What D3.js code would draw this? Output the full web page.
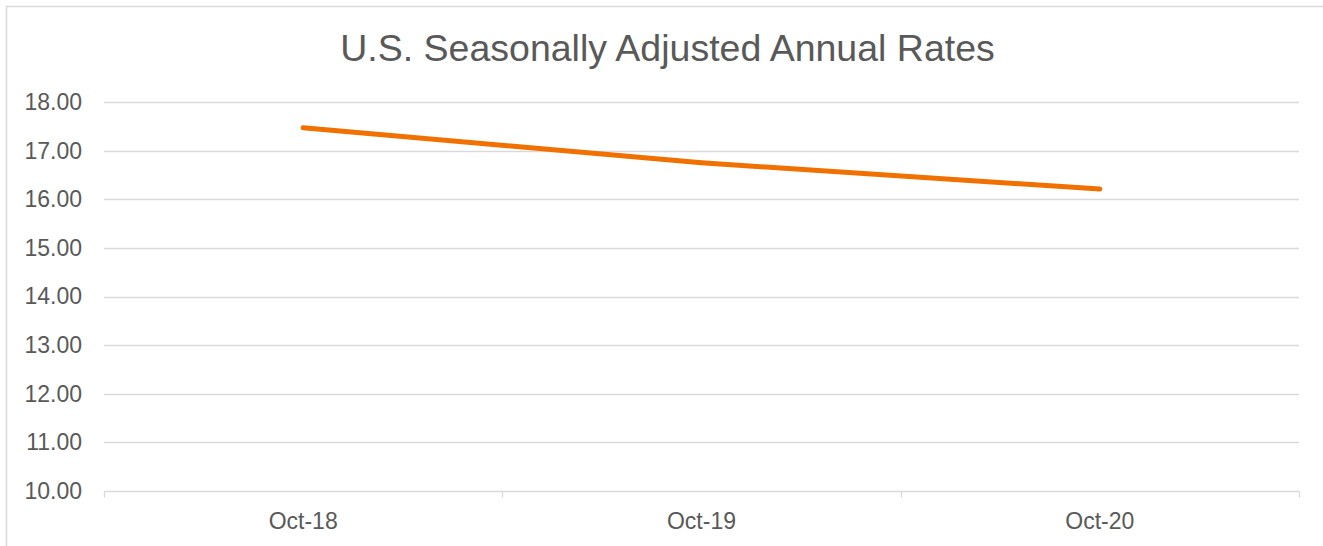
<!DOCTYPE html>
<html>
<head>
<meta charset="utf-8">
<script src="https://cdn.jsdelivr.net/npm/d3@7"></script>
<style>
  html, body { margin: 0; padding: 0; background: #fff; }
  svg { display: block; }
</style>
</head>
<body>
<svg id="chart" width="1323" height="546"></svg>
<script>
const title = "U.S. Seasonally Adjusted Annual Rates";
const categories = ["Oct-18", "Oct-19", "Oct-20"];
const values = [17.47, 16.75, 16.21];
const yTicks = [10, 11, 12, 13, 14, 15, 16, 17, 18];

const svg = d3.select("#chart");
const W = 1323, H = 546;
const plot = { left: 104, right: 1299, top: 102, bottom: 491 };
const textColor = "#595959";
const gridColor = "#d9d9d9";
const font = "'Liberation Sans', Arial, sans-serif";

// chart frame (top and left edges visible)
svg.append("path")
  .attr("d", `M6.5,${H} L6.5,6.5 L${W},6.5`)
  .attr("fill", "none")
  .attr("stroke", gridColor)
  .attr("stroke-width", 1.5);

const x = d3.scaleBand().domain(categories).range([plot.left, plot.right]).padding(0);
const y = d3.scaleLinear().domain([10, 18]).range([plot.bottom, plot.top]);

// gridlines
svg.append("g")
  .selectAll("line")
  .data(yTicks.filter(d => d !== 10))
  .join("line")
  .attr("x1", plot.left).attr("x2", plot.right)
  .attr("y1", d => Math.round(y(d)) + 0.5).attr("y2", d => Math.round(y(d)) + 0.5)
  .attr("stroke", gridColor).attr("stroke-width", 1.3);

// y axis labels
const yAxis = d3.axisLeft(y).tickValues(yTicks).tickFormat(d3.format(".2f")).tickSize(0).tickPadding(22);
const gy = svg.append("g").attr("transform", `translate(${plot.left},0)`).call(yAxis);
gy.select(".domain").remove();
gy.selectAll("text")
  .attr("fill", textColor)
  .attr("font-family", font)
  .attr("font-size", "23px");

// x axis
const xAxis = d3.axisBottom(x).tickSize(0).tickPadding(0);
const gx = svg.append("g").attr("transform", `translate(0,${Math.round(plot.bottom) + 0.5})`).call(xAxis);
gx.select(".domain").attr("stroke", gridColor).attr("stroke-width", 1.3)
  .attr("d", `M${plot.left},0H${plot.right}`);
gx.selectAll("text")
  .attr("fill", textColor)
  .attr("font-family", font)
  .attr("font-size", "23px")
  .attr("y", 37)
  .attr("dy", 0);
// category boundary tick marks
const boundaries = categories.map(c => x(c)).concat([x(categories[categories.length - 1]) + x.bandwidth()]);
gx.selectAll(".bnd")
  .data(boundaries)
  .join("line")
  .attr("class", "bnd")
  .attr("x1", d => Math.round(d) + 0.5).attr("x2", d => Math.round(d) + 0.5)
  .attr("y1", 0).attr("y2", 6)
  .attr("stroke", gridColor).attr("stroke-width", 1.3);

// line
const line = d3.line()
  .x((d, i) => x(categories[i]) + x.bandwidth() / 2)
  .y(d => y(d));
svg.append("path")
  .datum(values)
  .attr("d", line)
  .attr("fill", "none")
  .attr("stroke", "#F07000")
  .attr("stroke-width", 5)
  .attr("stroke-linecap", "round")
  .attr("stroke-linejoin", "round");

// title
svg.append("text")
  .attr("x", 667.5)
  .attr("y", 61)
  .attr("text-anchor", "middle")
  .attr("fill", textColor)
  .attr("font-family", font)
  .attr("font-size", "37.5px")
  .text(title);
</script>
</body>
</html>
